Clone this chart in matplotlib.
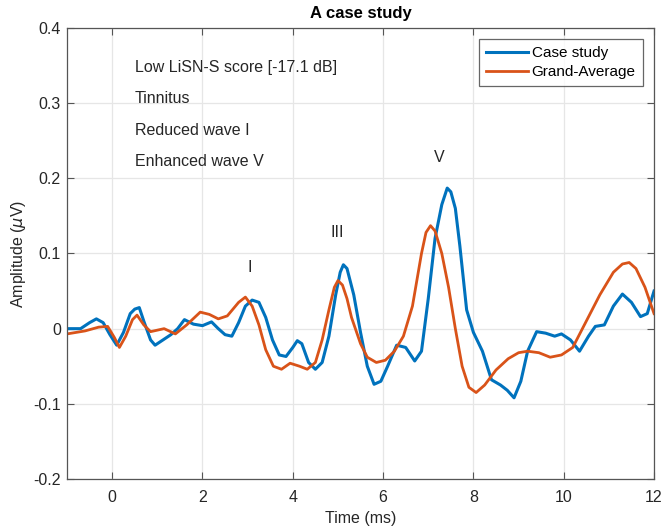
import matplotlib.pyplot as plt
import numpy as np

plt.rcParams['font.family'] = ['Liberation Sans', 'DejaVu Sans']

# Case study (blue)
t_case = [-1.0, -0.7, -0.5, -0.35, -0.2, -0.05, 0.1, 0.25, 0.4, 0.5, 0.6, 0.7, 0.85, 0.95,
          1.1, 1.3, 1.45, 1.6, 1.8, 2.0, 2.2, 2.35, 2.5, 2.65, 2.8, 2.95, 3.1, 3.25,
          3.4, 3.55, 3.7, 3.85, 4.0, 4.1, 4.2, 4.35, 4.5, 4.65, 4.8, 4.95, 5.05, 5.12, 5.2,
          5.35, 5.5, 5.65, 5.8, 5.95, 6.1, 6.3, 6.5, 6.7, 6.85, 7.0, 7.15, 7.3, 7.42,
          7.5, 7.6, 7.7, 7.85, 8.0, 8.2, 8.4, 8.6, 8.75, 8.9, 9.05, 9.2, 9.4, 9.6, 9.8,
          9.95, 10.15, 10.35, 10.55, 10.7, 10.9, 11.1, 11.3, 11.5, 11.7, 11.85, 12.0]
v_case = [0.0, 0.0, 0.008, 0.013, 0.008, -0.008, -0.022, -0.005, 0.02, 0.026, 0.028, 0.01, -0.015, -0.022,
          -0.016, -0.008, 0.0, 0.012, 0.006, 0.004, 0.009, 0.0, -0.008, -0.01, 0.008, 0.03, 0.038, 0.035,
          0.015, -0.015, -0.035, -0.037, -0.025, -0.016, -0.02, -0.045, -0.054, -0.045, -0.01, 0.045, 0.075, 0.085, 0.08,
          0.045, -0.005, -0.05, -0.074, -0.07, -0.05, -0.022, -0.025, -0.043, -0.03, 0.04, 0.12, 0.165, 0.187,
          0.182, 0.16, 0.11, 0.025, -0.005, -0.03, -0.068, -0.075, -0.082, -0.092, -0.07, -0.03, -0.004, -0.006, -0.01,
          -0.007, -0.015, -0.03, -0.01, 0.003, 0.005, 0.03, 0.046, 0.035, 0.016, 0.02, 0.05]

# Grand-Average (orange)
t_avg = [-1.0, -0.6, -0.3, -0.1, 0.05, 0.16, 0.3, 0.45, 0.55, 0.7, 0.85, 1.0, 1.15, 1.4,
         1.65, 1.95, 2.15, 2.35, 2.55, 2.8, 2.95, 3.1, 3.25, 3.4, 3.57, 3.75, 3.94, 4.15,
         4.32, 4.5, 4.65, 4.8, 4.92, 5.0, 5.1, 5.2, 5.3, 5.5, 5.65, 5.85, 6.05, 6.25, 6.45, 6.65,
         6.85, 6.95, 7.05, 7.15, 7.3, 7.45, 7.6, 7.75, 7.9, 8.06, 8.25, 8.5, 8.77, 9.0, 9.2,
         9.45, 9.7, 9.95, 10.2, 10.5, 10.8, 11.1, 11.3, 11.45, 11.6, 11.8, 12.0]
v_avg = [-0.007, -0.003, 0.002, 0.003, -0.012, -0.025, -0.01, 0.012, 0.018, 0.005, -0.004, -0.002, 0.0, -0.007,
         0.005, 0.022, 0.019, 0.013, 0.017, 0.035, 0.042, 0.03, 0.005, -0.028, -0.05, -0.054, -0.046, -0.05,
         -0.054, -0.045, -0.015, 0.025, 0.055, 0.064, 0.058, 0.04, 0.015, -0.02, -0.038, -0.045, -0.042, -0.03, -0.01, 0.03,
         0.1, 0.128, 0.137, 0.13, 0.1, 0.055, 0.0, -0.05, -0.078, -0.085, -0.075, -0.055, -0.04, -0.032, -0.03,
         -0.032, -0.038, -0.035, -0.025, 0.01, 0.045, 0.075, 0.086, 0.088, 0.08, 0.055, 0.02]

notes = ['Low LiSN-S score [-17.1 dB]', 'Tinnitus', 'Reduced wave I', 'Enhanced wave V']
wave_labels = ['I', 'III', 'V']
wave_t = [3.05, 4.99, 7.24]
wave_v = [0.081, 0.128, 0.228]

fig = plt.figure(figsize=(6.65, 5.27), dpi=100)
ax = fig.add_axes([0.1008, 0.0911, 0.8827, 0.8558])

ax.plot(t_case, v_case, color='#0072BD', lw=2.2, label='Case study')
ax.plot(t_avg, v_avg, color='#D95319', lw=2.0, label='Grand-Average')

ax.set_xlim(-1, 12)
ax.set_ylim(-0.2, 0.4)
ax.set_xticks(np.arange(0, 13, 2))
ax.set_yticks(np.arange(-0.2, 0.41, 0.1))
ax.set_yticklabels(['-0.2', '-0.1', '0', '0.1', '0.2', '0.3', '0.4'])
ax.grid(True, color='#e6e6e6', lw=0.9)
ax.set_axisbelow(True)
ax.tick_params(direction='in', top=True, right=True, labelsize=11.5, colors='#262626',
               length=5, color='#555555')
ax.tick_params(axis='x', pad=8)
ax.tick_params(axis='y', pad=4.5)
for s in ax.spines.values():
    s.set_color('#555555')
    s.set_linewidth(0.9)

ax.set_xlabel('Time (ms)', fontsize=11.5, color='#262626', labelpad=4)
ax.set_ylabel(r'Amplitude ($\mu$V)', fontsize=11.5, color='#262626', labelpad=4)
ax.set_title('A case study', fontsize=12, fontweight='bold', pad=7)

for i, n in enumerate(notes):
    ax.text(0.5, 0.348 - 0.042 * i, n, fontsize=11.5, color='#262626', va='center')
for lab, tx, vy in zip(wave_labels, wave_t, wave_v):
    ax.text(tx, vy, lab, fontsize=11.5, color='#262626', ha='center', va='center')

leg = ax.legend(loc='upper right', fontsize=11, frameon=True, fancybox=False,
                borderaxespad=0.75, handlelength=2.75, handletextpad=0.27, labelspacing=0.3,
                borderpad=0.45)
leg.get_frame().set_edgecolor('#404040')
leg.get_frame().set_linewidth(0.9)

fig.savefig('out.png', dpi=100)
